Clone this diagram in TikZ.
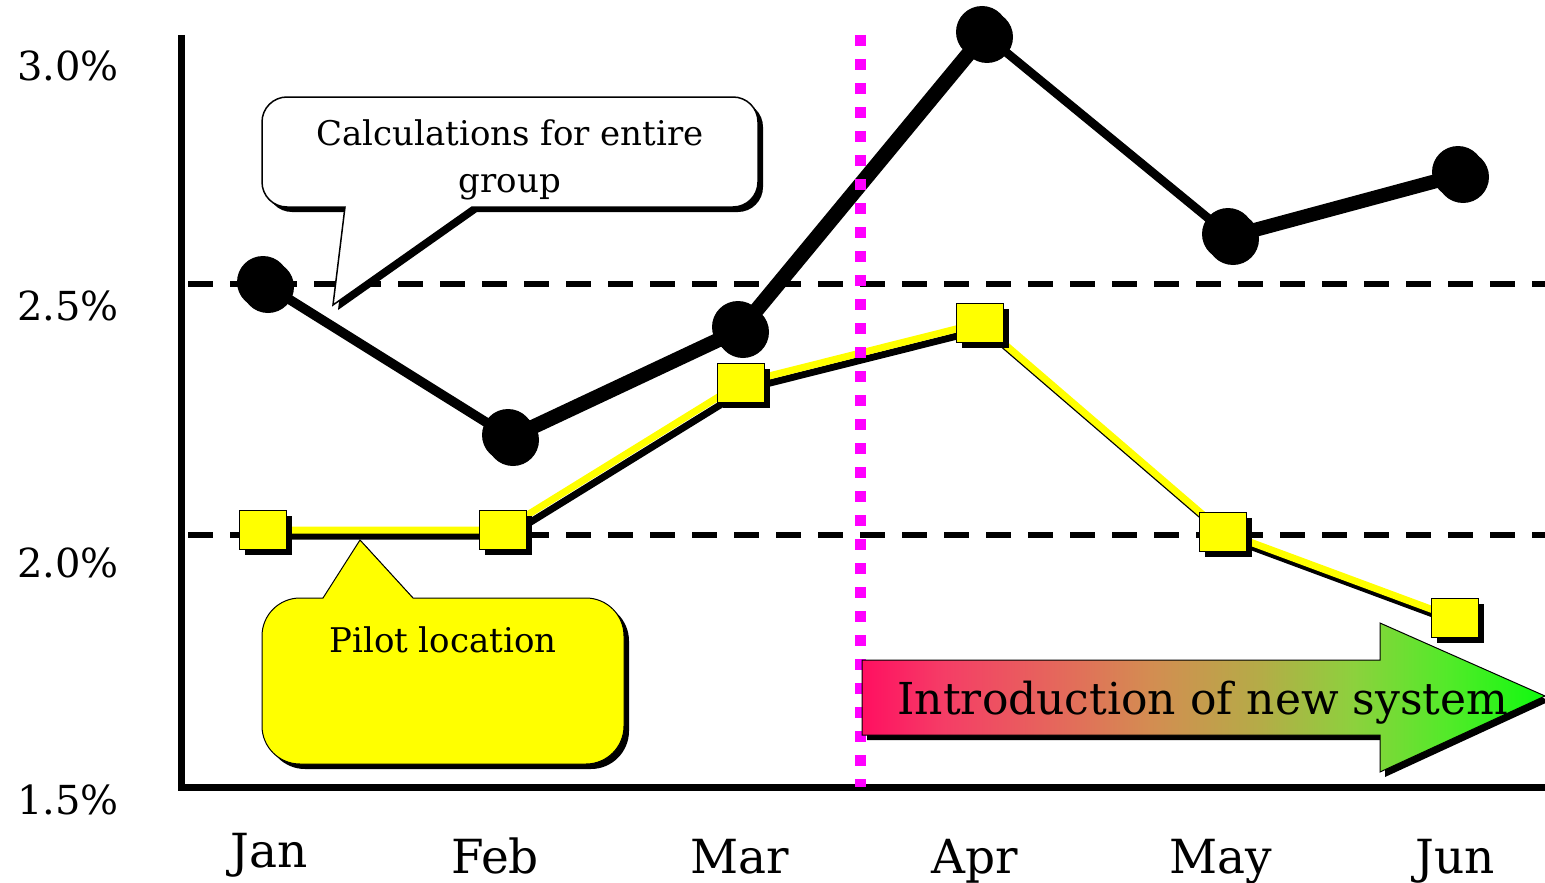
\documentclass[tikz,border=0pt]{standalone}
\usepackage{fontspec}
\setmainfont{DejaVu Serif}
\usepackage{tikz}
\usetikzlibrary{shadows}
\definecolor{pinkyellow}{RGB}{255,255,0}
\definecolor{newmagenta}{RGB}{255,0,255}
\pgfdeclarehorizontalshading{newsys}{100bp}{%
  rgb(0bp)=(1,0.06,0.38); rgb(25bp)=(1,0.06,0.38); rgb(31bp)=(0.96,0.24,0.40);
  rgb(39bp)=(0.90,0.40,0.36); rgb(46bp)=(0.83,0.55,0.32); rgb(54bp)=(0.71,0.67,0.28);
  rgb(61bp)=(0.55,0.82,0.24); rgb(68bp)=(0.32,0.92,0.16); rgb(75bp)=(0.06,0.98,0.06);
  rgb(100bp)=(0.06,0.98,0.06)}
\begin{document}
\begin{tikzpicture}[x=1pt, y=-1pt,
  shad/.style = {drop shadow={shadow xshift=5pt, shadow yshift=-5pt, opacity=1, fill=black}},
  grp/.style = {circle, fill=black, minimum size=52pt, inner sep=0pt, shad},
  pil/.style = {draw, line width=1.5pt, fill=pinkyellow, minimum width=47pt, minimum height=39pt, inner sep=0pt, shad},
  grid/.style = {line width=6pt, dash pattern=on 25pt off 17pt},
  ax/.style = {font=\fontsize{40}{44}\selectfont},
  mon/.style = {font=\fontsize{47}{50}\selectfont, anchor=base, inner sep=0pt},
  txt/.style = {font=\fontsize{34}{47}\selectfont, align=center}]
        \useasboundingbox (0,0) rectangle (1545,883);
        % grid and axes
        \draw[grid] (188,284) -- (1545,284);
        \draw[grid] (188,535) -- (1545,535);
        \draw[line width=7pt] (181,35) -- (181,787) -- (1545,787);
        % data points
        \coordinate (g1) at (263,282);
        \coordinate (g2) at (508,435);
        \coordinate (g3) at (738,327);
        \coordinate (g4) at (982,32);
        \coordinate (g5) at (1228,234);
        \coordinate (g6) at (1458,172);
        \coordinate (p1) at (263,530);
        \coordinate (p2) at (503,530);
        \coordinate (p3) at (741,383);
        \coordinate (p4) at (980,323);
        \coordinate (p5) at (1223,532);
        \coordinate (p6) at (1455,618);
        \draw[line width=8pt, line join=round, transform canvas={shift={(5pt,-5pt)}}] (g1) -- (g2) -- (g3) -- (g4) -- (g5) -- (g6);
        \draw[line width=8pt, line join=round] (g1) -- (g2) -- (g3) -- (g4) -- (g5) -- (g6);
        \draw[line width=7pt, transform canvas={shift={(5pt,-6pt)}}] (p1) -- (p2) -- (p3) -- (p4) -- (p5) -- (p6);
        \draw[pinkyellow, line width=7pt] (p1) -- (p2) -- (p3) -- (p4) -- (p5) -- (p6);
        \node[grp] (jan-g) at (g1) {};
        \node[grp] (feb-g) at (g2) {};
        \node[grp] (mar-g) at (g3) {};
        \node[grp] (apr-g) at (g4) {};
        \node[grp] (may-g) at (g5) {};
        \node[grp] (jun-g) at (g6) {};
        \node[pil] (jan-p) at (p1) {};
        \node[pil] (feb-p) at (p2) {};
        \node[pil] (mar-p) at (p3) {};
        \node[pil] (apr-p) at (p4) {};
        \node[pil] (may-p) at (p5) {};
        \node[pil] (jun-p) at (p6) {};
        % start of new system
        \draw[newmagenta, line width=11pt, dash pattern=on 11pt off 13pt] (860,35) -- (860,787);
        % callouts
        \draw[line width=1.5pt, fill=white, shad] (333,305) -- (345,207) [rounded corners=25pt] -- (262,207) -- (262,97) -- (758,97) -- (758,207) [sharp corners] -- (472,207) -- cycle;
        \node[txt] (grp-txt) at (510,160) {Calculations for entire\\group};
        \draw[line width=1pt, fill=pinkyellow, shad] (360,540) -- (413,598) [rounded corners=38pt] -- (624,598) -- (624,764) -- (262,764) -- (262,598) [sharp corners] -- (323,598) -- cycle;
        \node[txt] (pil-txt) at (443,640) {Pilot location};
        % arrow
        \draw[line width=1pt, shad, shading=newsys] (862,660) -- (1380,660) -- (1380,623) -- (1545,696) -- (1380,772) -- (1380,735) -- (862,735) -- cycle;
        \node[font=\fontsize{44}{50}\selectfont] (new-txt) at (1203,703) {Introduction of new system};
        % labels
        \node[ax] (y30) at (68,66) {3.0\%};
        \node[ax] (y25) at (68,306) {2.5\%};
        \node[ax] (y20) at (68,563) {2.0\%};
        \node[ax] (y15) at (68,800) {1.5\%};
        \node[mon] (jan) at (269,867) {Jan};
        \node[mon] (feb) at (495,873) {Feb};
        \node[mon] (mar) at (740,873) {Mar};
        \node[mon] (apr) at (975,873) {Apr};
        \node[mon] (may) at (1221,873) {May};
        \node[mon] (jun) at (1455,873) {Jun};
\end{tikzpicture}
\end{document}
